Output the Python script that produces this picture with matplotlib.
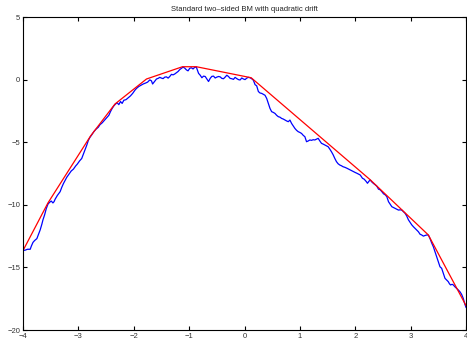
import matplotlib
matplotlib.use("Agg")
import matplotlib.pyplot as plt

# Brownian path
BM_X = [-4.00, -3.96, -3.92, -3.87, -3.85, -3.82, -3.79, -3.75, -3.72, -3.69,
        -3.66, -3.64, -3.61, -3.58, -3.55, -3.52, -3.49, -3.46, -3.44, -3.42,
        -3.38, -3.33, -3.30, -3.27, -3.24, -3.21, -3.17, -3.13, -3.09, -3.05,
        -3.02, -2.98, -2.94, -2.91, -2.88, -2.85, -2.82, -2.79, -2.76, -2.72,
        -2.68, -2.64, -2.61, -2.57, -2.52, -2.48, -2.45, -2.42, -2.39, -2.36,
        -2.33, -2.30, -2.27, -2.24, -2.21, -2.18, -2.14, -2.10, -2.06, -2.02,
        -1.98, -1.95, -1.91, -1.87, -1.83, -1.79, -1.75, -1.71, -1.68, -1.66,
        -1.63, -1.59, -1.56, -1.53, -1.50, -1.47, -1.44, -1.41, -1.38, -1.35,
        -1.32, -1.29, -1.26, -1.23, -1.20, -1.17, -1.14, -1.11, -1.08, -1.05,
        -1.02, -0.99, -0.96, -0.93, -0.90, -0.87, -0.85, -0.83, -0.80, -0.77,
        -0.74, -0.71, -0.68, -0.65, -0.62, -0.59, -0.56, -0.53, -0.50, -0.47,
        -0.44, -0.41, -0.38, -0.35, -0.32, -0.29, -0.26, -0.23, -0.20, -0.17,
        -0.14, -0.11, -0.08, -0.05, -0.02, 0.01, 0.04, 0.07, 0.10, 0.13,
        0.16, 0.19, 0.22, 0.25, 0.28, 0.31, 0.34, 0.37, 0.40, 0.43,
        0.46, 0.49, 0.52, 0.55, 0.58, 0.61, 0.64, 0.67, 0.70, 0.73,
        0.76, 0.79, 0.82, 0.85, 0.88, 0.91, 0.94, 0.97, 1.00, 1.03,
        1.06, 1.09, 1.12, 1.15, 1.18, 1.21, 1.24, 1.27, 1.30, 1.33,
        1.36, 1.39, 1.42, 1.45, 1.48, 1.51, 1.54, 1.57, 1.60, 1.63,
        1.66, 1.69, 1.72, 1.75, 1.78, 1.81, 1.85, 1.88, 1.91, 1.94,
        1.97, 2.00, 2.03, 2.06, 2.09, 2.11, 2.13, 2.16, 2.18, 2.20,
        2.22, 2.25, 2.27, 2.30, 2.33, 2.36, 2.39, 2.42, 2.45, 2.48,
        2.51, 2.54, 2.57, 2.60, 2.63, 2.66, 2.69, 2.72, 2.75, 2.78,
        2.81, 2.84, 2.87, 2.90, 2.93, 2.96, 2.99, 3.02, 3.05, 3.08,
        3.11, 3.14, 3.17, 3.20, 3.23, 3.26, 3.29, 3.32, 3.35, 3.38,
        3.41, 3.44, 3.47, 3.50, 3.53, 3.56, 3.59, 3.62, 3.65, 3.68,
        3.70, 3.72, 3.75, 3.77, 3.80, 3.83, 3.86, 3.89, 3.92, 3.95,
        3.98, 4.00]
BM_Y = [-13.65, -13.62, -13.55, -13.55, -13.30, -13.00, -12.85, -12.70, -12.35, -12.00,
        -11.55, -11.20, -10.80, -10.30, -9.95, -9.80, -9.70, -9.85, -9.75, -9.55,
        -9.25, -8.95, -8.60, -8.30, -8.05, -7.80, -7.55, -7.30, -7.15, -6.90,
        -6.75, -6.50, -6.30, -5.95, -5.60, -5.25, -4.85, -4.60, -4.42, -4.15,
        -3.95, -3.80, -3.60, -3.45, -3.20, -3.00, -2.85, -2.55, -2.30, -2.10,
        -1.95, -1.85, -2.00, -1.75, -1.90, -1.65, -1.60, -1.45, -1.30, -1.10,
        -0.85, -0.70, -0.55, -0.45, -0.35, -0.28, -0.20, -0.02, -0.10, -0.35,
        -0.18, 0.05, 0.10, 0.18, 0.12, 0.08, 0.20, 0.22, 0.12, 0.25,
        0.42, 0.38, 0.45, 0.55, 0.65, 0.80, 0.90, 1.00, 0.92, 0.78,
        0.70, 0.90, 0.95, 0.85, 0.98, 1.00, 0.75, 0.50, 0.35, 0.15,
        0.28, 0.25, 0.05, -0.15, 0.10, 0.26, 0.28, 0.13, 0.20, 0.25,
        0.22, 0.10, 0.07, 0.20, 0.35, 0.25, 0.10, 0.07, 0.02, 0.18,
        0.08, 0.00, -0.03, 0.13, 0.05, 0.00, 0.12, 0.18, 0.15, 0.07,
        -0.05, -0.40, -0.50, -0.95, -1.07, -1.10, -1.18, -1.25, -1.50, -1.90,
        -2.30, -2.56, -2.62, -2.70, -2.85, -2.96, -3.00, -3.10, -3.15, -3.23,
        -3.30, -3.36, -3.23, -3.50, -3.70, -3.90, -4.05, -4.16, -4.22, -4.30,
        -4.45, -4.56, -4.96, -4.90, -4.82, -4.85, -4.80, -4.82, -4.75, -4.69,
        -4.90, -5.09, -5.15, -5.22, -5.28, -5.36, -5.55, -5.76, -6.00, -6.29,
        -6.55, -6.72, -6.82, -6.88, -6.96, -7.00, -7.08, -7.15, -7.22, -7.30,
        -7.36, -7.42, -7.48, -7.55, -7.62, -7.75, -7.88, -7.95, -8.05, -8.15,
        -8.28, -8.10, -8.02, -8.18, -8.30, -8.40, -8.52, -8.75, -8.80, -8.95,
        -9.12, -9.20, -9.35, -9.75, -9.95, -10.15, -10.22, -10.28, -10.35, -10.42,
        -10.40, -10.42, -10.55, -10.68, -10.90, -11.20, -11.40, -11.60, -11.75, -11.88,
        -12.00, -12.15, -12.35, -12.41, -12.50, -12.45, -12.41, -12.42, -12.70, -13.05,
        -13.35, -13.75, -14.14, -14.54, -14.95, -15.07, -15.47, -15.87, -16.00, -16.14,
        -16.30, -16.40, -16.35, -16.40, -16.55, -16.67, -16.80, -16.94, -17.15, -17.47,
        -17.95, -18.19]

# concave majorant vertices
MAJ_X = [-4.00, -3.55, -2.78, -2.34, -1.77, -1.12, -0.87, 0.12, 2.27, 3.32, 4.00]
MAJ_Y = [-13.65, -9.85, -4.50, -1.95, 0.05, 1.03, 1.03, 0.15, -8.00, -12.41, -18.05]

X_TICKS = [-4, -3, -2, -1, 0, 1, 2, 3, 4]
Y_TICKS = [5, 0, -5, -10, -15, -20]

plt.rcParams["font.family"] = ["Liberation Sans", "DejaVu Sans"]
plt.rcParams["axes.unicode_minus"] = True

fig = plt.figure(figsize=(4.67, 3.39), dpi=100)
ax = fig.add_axes([0.0493, 0.0265, 0.9486, 0.9233])

ax.plot(BM_X, BM_Y, color="#0000ff", linewidth=0.9)
ax.plot(MAJ_X, MAJ_Y, color="#ff0000", linewidth=0.9)

ax.set_xlim(-4, 4)
ax.set_ylim(-20, 5)
ax.set_xticks(X_TICKS)
ax.set_yticks(Y_TICKS)
ax.tick_params(direction="in", length=3, width=0.8, labelsize=5.5,
               top=True, right=True, pad=2, colors="black", labelcolor="#333333")
for s in ax.spines.values():
    s.set_linewidth(0.8)

ax.set_title("Standard two\u2013sided BM with quadratic drift", fontsize=5.5,
             color="#222222", pad=4)

fig.savefig("out.png", dpi=100)
